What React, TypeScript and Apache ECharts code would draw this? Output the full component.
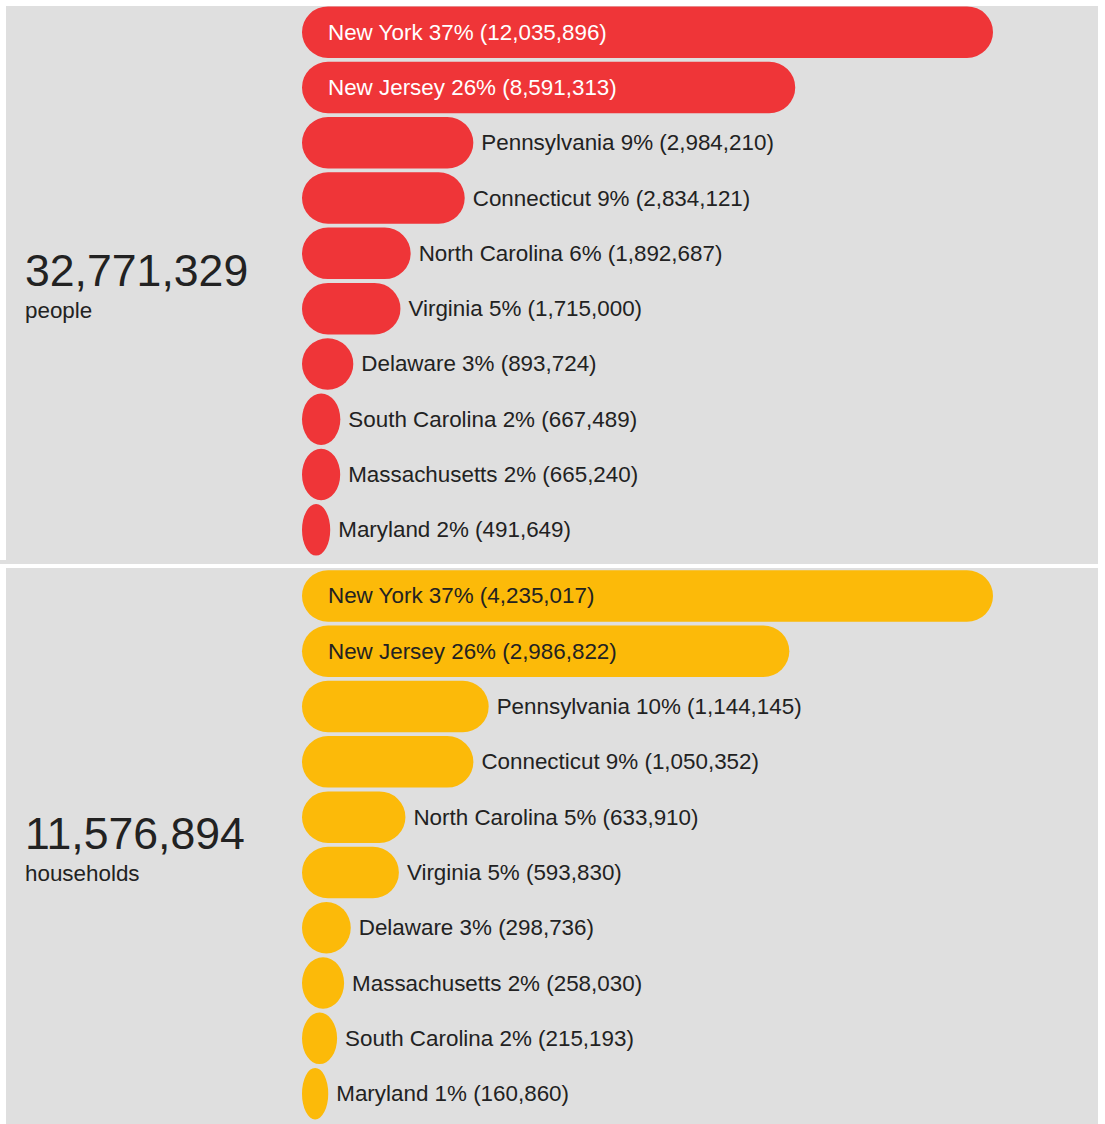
import React, { useEffect, useRef } from "react";
import * as echarts from "echarts";

const peopleStates = ["New York", "New Jersey", "Pennsylvania", "Connecticut", "North Carolina", "Virginia", "Delaware", "South Carolina", "Massachusetts", "Maryland"];
const peopleValues = [12035896, 8591313, 2984210, 2834121, 1892687, 1715000, 893724, 667489, 665240, 491649];
const peoplePct = [37, 26, 9, 9, 6, 5, 3, 2, 2, 2];
const peopleTotal = "32,771,329";
const peopleUnit = "people";

const householdStates = ["New York", "New Jersey", "Pennsylvania", "Connecticut", "North Carolina", "Virginia", "Delaware", "Massachusetts", "South Carolina", "Maryland"];
const householdValues = [4235017, 2986822, 1144145, 1050352, 633910, 593830, 298736, 258030, 215193, 160860];
const householdPct = [37, 26, 10, 9, 5, 5, 3, 2, 2, 1];
const householdTotal = "11,576,894";
const householdUnit = "households";

const FONT = "Arial";
const RED = "#ef3538";
const YELLOW = "#fcba09";
const GRAY = "#dfdfdf";
const TEXT = "#222222";

function makeRender(fill: string, insideColor: string, names: string[], pcts: number[]) {
  return (params: any, api: any) => {
    const i = params.dataIndex;
    const v = api.value(0);
    const c = api.value(1);
    const p0 = api.coord([0, c]);
    const p1 = api.coord([v, c]);
    const h = 51.5;
    const x = p0[0];
    const y = p0[1] - h / 2;
    const w = p1[0] - p0[0];
    const R = 26;
    const rx = Math.min(R, w / 2);
    const ry = Math.min(R, h / 2);
    const d =
      `M${x + rx},${y} L${x + w - rx},${y} A${rx},${ry} 0 0 1 ${x + w},${y + ry} ` +
      `L${x + w},${y + h - ry} A${rx},${ry} 0 0 1 ${x + w - rx},${y + h} ` +
      `L${x + rx},${y + h} A${rx},${ry} 0 0 1 ${x},${y + h - ry} ` +
      `L${x},${y + ry} A${rx},${ry} 0 0 1 ${x + rx},${y} Z`;
    const inside = i < 2;
    const label = `${names[i]} ${pcts[i]}% (${Number(v).toLocaleString("en-US")})`;
    return {
      type: "group",
      children: [
        { type: "path", shape: { pathData: d }, style: { fill } },
        {
          type: "text",
          x: inside ? x + 26 : x + w + 8,
          y: p0[1],
          style: {
            text: label,
            fill: inside ? insideColor : TEXT,
            fontSize: 22.4,
            fontFamily: FONT,
            align: "left",
            verticalAlign: "middle",
          },
        },
      ],
    };
  };
}

export default function App() {
  const ref = useRef<HTMLDivElement>(null);
  useEffect(() => {
    if (!ref.current) return;
    const chart = echarts.init(ref.current, undefined, { renderer: "svg" });
    const option: any = {
      animation: false,
      graphic: [
        { type: "rect", z: -10, shape: { x: 6, y: 6, width: 1092, height: 554 }, style: { fill: GRAY } },
        { type: "rect", z: -10, shape: { x: 0, y: 560, width: 1098, height: 4 }, style: { fill: GRAY } },
        { type: "rect", z: -10, shape: { x: 6, y: 568, width: 1092, height: 556 }, style: { fill: GRAY } },
        { type: "text", z: 10, x: 25, y: 270, style: { text: peopleTotal, fontSize: 44.6, fontFamily: FONT, fill: TEXT, verticalAlign: "middle" } },
        { type: "text", z: 10, x: 25, y: 310, style: { text: peopleUnit, fontSize: 22.4, fontFamily: FONT, fill: TEXT, verticalAlign: "middle" } },
        { type: "text", z: 10, x: 25, y: 833, style: { text: householdTotal, fontSize: 44.6, fontFamily: FONT, fill: TEXT, verticalAlign: "middle" } },
        { type: "text", z: 10, x: 25, y: 873, style: { text: householdUnit, fontSize: 22.4, fontFamily: FONT, fill: TEXT, verticalAlign: "middle" } },
      ],
      grid: [
        { left: 302, width: 691, top: 4.5, height: 553 },
        { left: 302, width: 691, top: 568.3, height: 553 },
      ],
      xAxis: [
        { type: "value", gridIndex: 0, min: 0, max: peopleValues[0], show: false },
        { type: "value", gridIndex: 1, min: 0, max: householdValues[0], show: false },
      ],
      yAxis: [
        { type: "category", gridIndex: 0, data: peopleStates, inverse: true, show: false },
        { type: "category", gridIndex: 1, data: householdStates, inverse: true, show: false },
      ],
      series: [
        {
          type: "custom",
          xAxisIndex: 0,
          yAxisIndex: 0,
          encode: { x: 0, y: 1 },
          data: peopleValues.map((v, i) => [v, i]),
          renderItem: makeRender(RED, "#ffffff", peopleStates, peoplePct),
        },
        {
          type: "custom",
          xAxisIndex: 1,
          yAxisIndex: 1,
          encode: { x: 0, y: 1 },
          data: householdValues.map((v, i) => [v, i]),
          renderItem: makeRender(YELLOW, TEXT, householdStates, householdPct),
        },
      ],
    };
    chart.setOption(option);
    return () => chart.dispose();
  }, []);
  return <div ref={ref} style={{ position: "absolute", left: 0, top: 0, width: 1105, height: 1124 }} />;
}
